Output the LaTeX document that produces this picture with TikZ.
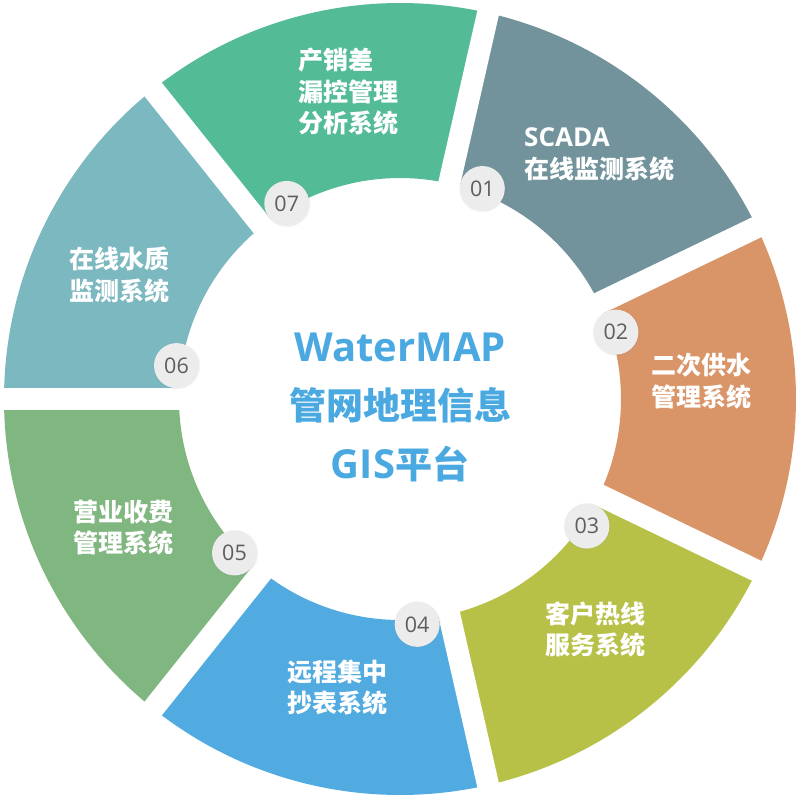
\documentclass[tikz,border=0pt]{standalone}
\usepackage{fontspec}
\usetikzlibrary{shadows}
\newfontfamily\cjk{Noto Sans CJK SC}
\newfontfamily\lat{Open Sans}
\definecolor{c1}{HTML}{72939B}
\definecolor{c2}{HTML}{D99467}
\definecolor{c3}{HTML}{B8C147}
\definecolor{c4}{HTML}{52ABE0}
\definecolor{c5}{HTML}{80B67F}
\definecolor{c6}{HTML}{7BB8C0}
\definecolor{c7}{HTML}{54BB97}
\definecolor{ctext}{HTML}{4BA9E1}
\definecolor{badgefill}{HTML}{ECECEC}
\definecolor{badgetext}{HTML}{5E5E5E}
\tikzset{
  badge/.style={circle, fill=badgefill, minimum size=45pt, inner sep=0pt,
    text=badgetext, font=\lat\fontsize{21.5}{21.5}\selectfont,
    circular drop shadow={shadow xshift=0pt, shadow yshift=0pt, shadow scale=1.07, opacity=0.18}},
  seglabel/.style={text=white, inner sep=0pt, font=\cjk\bfseries\fontsize{25}{25}\selectfont},
  centerlabel/.style={text=ctext, inner sep=0pt, font=\cjk\bfseries\fontsize{37}{37}\selectfont},
  gap/.style={white, line width=22pt}
}
\begin{document}
\begin{tikzpicture}[x=1pt,y=-1pt]
\fill[white] (0,0) rectangle (800,799);
\useasboundingbox (0,0) rectangle (800,799);
\coordinate (C) at (400,399);
% ring segments
\foreach \k/\col in {0/c6,1/c7,2/c1,3/c2,4/c3,5/c4,6/c5} {
  \pgfmathsetmacro\aa{-(180-51.428571*\k)}
  \pgfmathsetmacro\bb{-(180-51.428571*(\k+1))}
  \fill[\col] ([shift={(C)}]\aa:396) arc[start angle=\aa,end angle=\bb,radius=396]
     -- ([shift={(C)}]\bb:221) arc[start angle=\bb,end angle=\aa,radius=221] -- cycle;
}
% gaps
\foreach \k in {0,...,6} {
  \pgfmathsetmacro\aa{-(180-51.428571*\k)}
  \draw[gap] (C) -- ([shift={(C)}]\aa:420);
}
% badges
\node[badge] (b6) at ([shift={(C)}]-171.5:226) {06};
\node[badge] (b7) at ([shift={(C)}]-120.07:226) {07};
\node[badge] (b1) at ([shift={(C)}]-68.64:226) {01};
\node[badge] (b2) at ([shift={(C)}]-17.21:226) {02};
\node[badge] (b3) at ([shift={(C)}]34.21:226) {03};
\node[badge] (b4) at ([shift={(C)}]85.64:226) {04};
\node[badge] (b5) at ([shift={(C)}]137.07:226) {05};
% segment labels
\node[seglabel, anchor=west] (t7a) at (298,60) {产销差};
\node[seglabel, anchor=west] (t7b) at (298,92) {漏控管理};
\node[seglabel, anchor=west] (t7c) at (298,123) {分析系统};
\node[seglabel, anchor=west] (t1a) at (524,137) {{\lat\bfseries\fontsize{26}{26}\selectfont SCADA}};
\node[seglabel, anchor=west] (t1b) at (524,169) {在线监测系统};
\node[seglabel] (t2a) at (701,365) {二次供水};
\node[seglabel] (t2b) at (701,397) {管理系统};
\node[seglabel] (t3a) at (595,614) {客户热线};
\node[seglabel] (t3b) at (595,645) {服务系统};
\node[seglabel] (t4a) at (337,672) {远程集中};
\node[seglabel] (t4b) at (337,703) {抄表系统};
\node[seglabel] (t5a) at (123,512) {营业收费};
\node[seglabel] (t5b) at (123,543) {管理系统};
\node[seglabel] (t6a) at (119,259) {在线水质};
\node[seglabel] (t6b) at (119,291) {监测系统};
% center
\node[centerlabel] (ca) at (400,347) {{\lat\bfseries\fontsize{40}{40}\selectfont WaterMAP}};
\node[centerlabel] (cb) at (400,405) {管网地理信息};
\node[centerlabel] (cc) at (400,464) {{\lat\bfseries\fontsize{40}{40}\selectfont GIS}平台};
\end{tikzpicture}
\end{document}
